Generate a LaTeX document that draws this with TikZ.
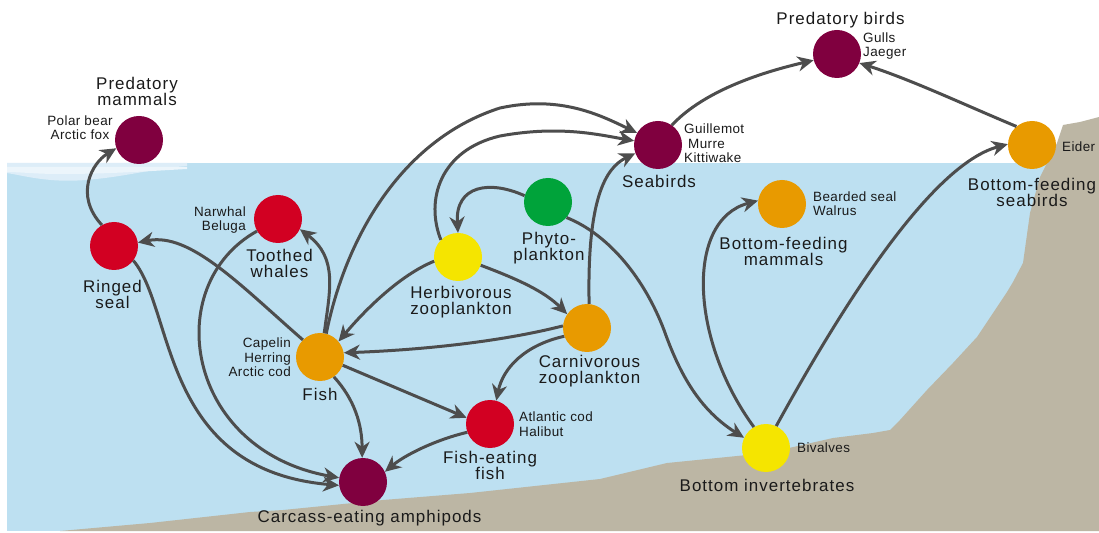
\documentclass[tikz,border=0pt]{standalone}
\usepackage{xcolor}
\usepackage{fontspec}
\setmainfont{Liberation Sans}
\newfontfamily\grouplabel[LetterSpace=6]{Liberation Sans}
\newfontfamily\kindlabel[LetterSpace=3]{Liberation Sans}
\usetikzlibrary{arrows.meta}

\definecolor{seawater}{HTML}{BDE0F1}
\definecolor{seaice}{HTML}{DDEDF8}
\definecolor{seaicetop}{HTML}{ECF5FB}
\definecolor{seafloor}{HTML}{BCB6A4}
\definecolor{toplevel}{HTML}{80003F}
\definecolor{predlevel}{HTML}{D20022}
\definecolor{midlevel}{HTML}{E89A00}
\definecolor{grazelevel}{HTML}{F5E500}
\definecolor{plantlevel}{HTML}{00A33A}
\definecolor{linkgray}{HTML}{4D4D4D}
\definecolor{labeltext}{HTML}{1A1A1A}

\begin{document}
\begin{tikzpicture}[x=1bp, y=-1bp,
    species/.style={circle, minimum size=48bp, inner sep=0pt},
    group/.style={align=center, anchor=base, inner sep=0pt, text=labeltext,
        font=\grouplabel\fontsize{17}{16.5}\selectfont},
    kinds/.style={inner sep=0pt, text=labeltext,
        font=\kindlabel\fontsize{13.5}{14.5}\selectfont},
    eats/.style={draw=linkgray, line width=3bp,
        -{Stealth[length=16bp, width=15bp, inset=5bp]}}]
    \useasboundingbox (0,0) rectangle (1099,533);
    \fill[white] (0,0) rectangle (1099,533);
    \fill[seawater] (7,163) rectangle (1099,531);
    \fill[seaice] (7,163) -- (187,163) -- (187,166)
        .. controls (150,169) and (125,177) .. (85,180)
        .. controls (50,183) and (25,176) .. (7,173) -- cycle;
    \fill[seaicetop] (7,167) -- (187,167) -- (187,169)
        .. controls (150,171) and (110,174) .. (60,174)
        .. controls (35,174) and (20,172) .. (7,172) -- cycle;
    \fill[seafloor] (60,531) -- (150,523) -- (250,512) -- (283,510) -- (383,500)
        -- (470,493) -- (600,479) -- (667,463) -- (767,453) -- (833,438)
        -- (873,433) -- (890,430) -- (900,420) -- (927,390) -- (953,363)
        -- (977,337) -- (997,307) -- (1007,292) -- (1013,282) -- (1023,263)
        -- (1030,213) -- (1040,177) -- (1047,163) -- (1057,143) -- (1063,125)
        -- (1080,122) -- (1099,117) -- (1099,531) -- cycle;

    \node[species, fill=toplevel] (predmam) at (139,140) {};
    \node[species, fill=predlevel] (ringed) at (114,246) {};
    \node[species, fill=predlevel] (toothed) at (278,219) {};
    \node[species, fill=midlevel] (fish) at (320,357) {};
    \node[species, fill=toplevel] (amph) at (363,482) {};
    \node[species, fill=predlevel] (fishfish) at (490,424) {};
    \node[species, fill=grazelevel] (herb) at (458,257) {};
    \node[species, fill=plantlevel] (phyto) at (548,202) {};
    \node[species, fill=midlevel] (carn) at (587,328) {};
    \node[species, fill=toplevel] (seabirds) at (658,145) {};
    \node[species, fill=midlevel] (botmam) at (782,204) {};
    \node[species, fill=toplevel] (predbirds) at (837,54) {};
    \node[species, fill=midlevel] (botsea) at (1032,145) {};
    \node[species, fill=grazelevel] (botinv) at (766,448) {};

    \draw[eats] (ringed.120) .. controls (74,195) and (92,163) .. (predmam.200);
    \draw[eats] (fish.135) .. controls (240,285) and (190,232) .. (ringed.8);
    \draw[eats] (fish.80) .. controls (330,290) and (338,258) .. (toothed.-25);
    \draw[eats] (toothed.210) .. controls (160,285) and (185,450) .. (amph.170);
    \draw[eats] (ringed.-37) .. controls (175,310) and (160,470) .. (amph.188);
    \draw[eats] (fish.75) .. controls (345,240) and (400,140) .. (500,108)
        .. controls (560,95) and (600,115) .. (seabirds.150);
    \draw[eats] (herb.135) .. controls (425,200) and (440,150) .. (500,136)
        .. controls (560,125) and (600,135) .. (seabirds.170);
    \draw[eats] (phyto.165) .. controls (490,180) and (455,185) .. (herb.90);
    \draw[eats] (herb.190) .. controls (400,275) and (365,310) .. (fish.40);
    \draw[eats] (herb.-20) .. controls (520,280) and (545,292) .. (carn.145);
    \draw[eats] (carn.85) .. controls (587,200) and (605,168) .. (seabirds.200);
    \draw[eats] (carn.175) .. controls (500,342) and (420,350) .. (fish.10);
    \draw[eats] (carn.200) .. controls (525,345) and (503,368) .. (fishfish.75);
    \draw[eats] (fish.-20) -- (fishfish.165);
    \draw[eats] (fish.-55) .. controls (355,400) and (362,425) .. (amph.92);
    \draw[eats] (fishfish.200) .. controls (435,440) and (405,455) .. (amph.25);
    \draw[eats] (phyto.-40) .. controls (610,235) and (645,280) .. (664,330)
        .. controls (680,375) and (700,410) .. (botinv.155);
    \draw[eats] (botinv.120) .. controls (690,340) and (685,220) .. (botmam.172);
    \draw[eats] (botinv.65) .. controls (840,310) and (930,165) .. (botsea.178);
    \draw[eats] (seabirds.55) .. controls (700,95) and (750,75) .. (predbirds.195);
    \draw[eats] (botsea.130) .. controls (965,105) and (912,80) .. (predbirds.-22);

    \node[group] (predmamname) at (137,105.5) {Predatory\\mammals};
    \node[group] (toothedname) at (279.5,277.5) {Toothed\\whales};
    \node[group] (ringedname) at (112.5,308.5) {Ringed\\seal};
    \node[group] (fishname) at (320,400) {Fish};
    \node[group] (fishfishname) at (490,479.5) {Fish-eating\\fish};
    \node[group] (amphname) at (369.5,522) {Carcass-eating amphipods};
    \node[group] (herbname) at (461,314.5) {Herbivorous\\zooplankton};
    \node[group] (phytoname) at (549,260.5) {Phyto-\\plankton};
    \node[group] (carnname) at (589.5,383.5) {Carnivorous\\zooplankton};
    \node[group] (seabirdsname) at (659,188) {Seabirds};
    \node[group] (predbirdsname) at (840.5,25) {Predatory birds};
    \node[group] (botmamname) at (783.5,265.5) {Bottom-feeding\\mammals};
    \node[group] (botseaname) at (1032,206.5) {Bottom-feeding\\seabirds};
    \node[group] (botinvname) at (767,491) {Bottom invertebrates};

    \node[kinds, align=center, anchor=base] (predmamkinds) at (80,140) {Polar bear\\Arctic fox};
    \node[kinds, align=right, anchor=base east] (toothedkinds) at (246,231) {Narwhal\\Beluga};
    \node[kinds, align=right, anchor=base east] (fishkinds) at (291,376.5) {Capelin\\Herring\\Arctic cod};
    \node[kinds, align=left, anchor=base west] (fishfishkinds) at (519,436) {Atlantic cod\\Halibut};
    \node[kinds, align=left, anchor=base west] (seabirdskinds) at (684,162.5) {Guillemot\\\hspace{4bp}Murre\\Kittiwake};
    \node[kinds, align=left, anchor=base west] (predbirdskinds) at (863,57) {Gulls\\Jaeger};
    \node[kinds, align=left, anchor=base west] (botmamkinds) at (813,216) {Bearded seal\\Walrus};
    \node[kinds, anchor=base west] (botseakinds) at (1062,151.5) {Eider};
    \node[kinds, anchor=base west] (botinvkinds) at (797,452.5) {Bivalves};
\end{tikzpicture}
\end{document}
